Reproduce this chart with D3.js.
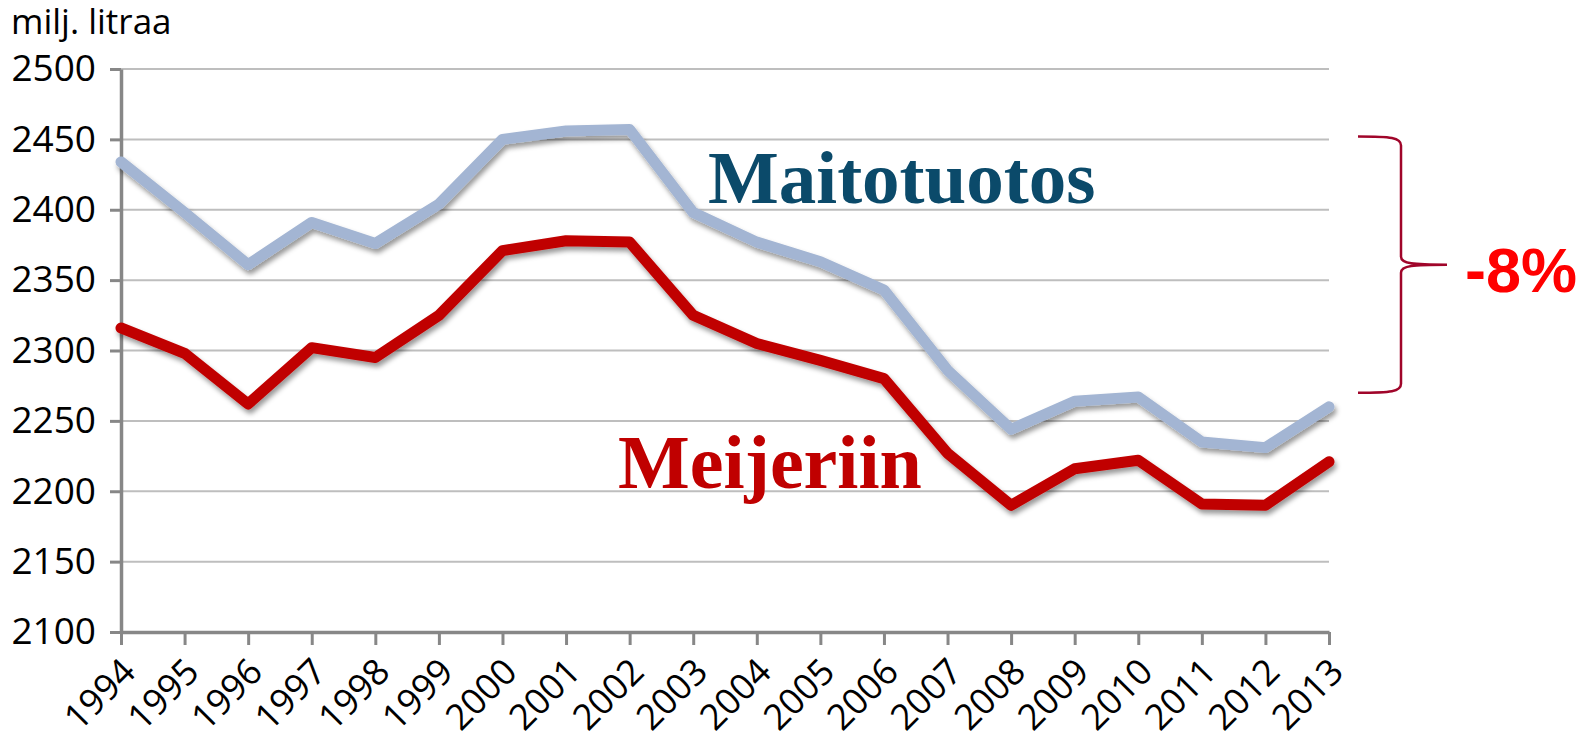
<!DOCTYPE html>
<html>
<head>
<meta charset="utf-8">
<script src="https://cdn.jsdelivr.net/npm/d3@7"></script>
<style>
  body { margin: 0; background: #fff; }
  svg { display: block; }
</style>
</head>
<body>
<div id="chart"></div>
<script>
// data
const years = [1994, 1995, 1996, 1997, 1998, 1999, 2000, 2001, 2002, 2003,
               2004, 2005, 2006, 2007, 2008, 2009, 2010, 2011, 2012, 2013]
const maitotuotos = [2434, 2398, 2361, 2391, 2376, 2404, 2450, 2456, 2457, 2398,
                     2377, 2363, 2343, 2286, 2244, 2264, 2267, 2235, 2231, 2260]
const meijeriin = [2316, 2298, 2262, 2302, 2295, 2325, 2371, 2378, 2377, 2325,
                   2305, 2293, 2280, 2227, 2190, 2216, 2222, 2191, 2190, 2221]
const yTicks = [2100, 2150, 2200, 2250, 2300, 2350, 2400, 2450, 2500]
// brace spans from 2013 level up to the peak level
const braceRange = [2270, 2452]

const width = 1585,
    height = 737

let margin = {top: 69, right: 256, bottom: 105, left: 121}

let svg = d3.select('#chart')
    .append('svg')
    .attr('width', width)
    .attr('height', height)

let defs = svg.append('defs')
let shadow = defs.append('filter')
    .attr('id', 'shadow')
    .attr('x', '-10%').attr('y', '-10%')
    .attr('width', '120%').attr('height', '130%')
shadow.append('feDropShadow')
    .attr('dx', 2)
    .attr('dy', 4)
    .attr('stdDeviation', 2.5)
    .attr('flood-color', '#000')
    .attr('flood-opacity', 0.4)

let x = d3.scalePoint()
    .domain(years)
    .range([margin.left, width - margin.right])

let y = d3.scaleLinear()
    .domain([2100, 2500])
    .range([height - margin.bottom, margin.top])

// gridlines
svg.append('g')
    .selectAll('line')
    .data(yTicks.filter(d => d > 2100))
    .join('line')
    .attr('x1', margin.left)
    .attr('x2', width - margin.right)
    .attr('y1', d => y(d))
    .attr('y2', d => y(d))
    .attr('stroke', '#bebebe')
    .attr('stroke-width', 2)

// y axis
let yAxis = svg.append('g')
    .attr('transform', `translate(${margin.left},0)`)
    .call(d3.axisLeft(y).tickValues(yTicks).tickFormat(d3.format('d'))
        .tickSize(11).tickPadding(14).tickSizeOuter(0))
yAxis.select('.domain').attr('stroke', '#878787').attr('stroke-width', 3.5)
yAxis.selectAll('.tick line').attr('stroke', '#878787').attr('stroke-width', 3)
yAxis.selectAll('.tick text')
    .attr('fill', '#000')
    .style('font-family', '"Open Sans", sans-serif')
    .style('font-size', '37px')

// x axis
let xAxis = svg.append('g')
    .attr('transform', `translate(0,${y(2100)})`)
    .call(d3.axisBottom(x).tickSize(13).tickSizeOuter(0).tickFormat(d3.format('d')))
xAxis.select('.domain').attr('stroke', '#878787').attr('stroke-width', 3.5)
xAxis.selectAll('.tick line').attr('stroke', '#878787').attr('stroke-width', 3)
xAxis.selectAll('.tick text')
    .attr('fill', '#000')
    .attr('text-anchor', 'end')
    .attr('y', 0)
    .attr('dy', 0)
    .attr('transform', 'translate(16,42) rotate(-45)')
    .style('font-family', '"Open Sans", sans-serif')
    .style('font-size', '36px')

// lines
let line = d3.line()
    .x((d, i) => x(years[i]))
    .y(d => y(d))

svg.append('path')
    .datum(maitotuotos)
    .attr('d', line)
    .attr('fill', 'none')
    .attr('stroke', '#a3b5d3')
    .attr('stroke-width', 11)
    .attr('stroke-linejoin', 'round')
    .attr('stroke-linecap', 'round')
    .attr('filter', 'url(#shadow)')

svg.append('path')
    .datum(meijeriin)
    .attr('d', line)
    .attr('fill', 'none')
    .attr('stroke', '#c00000')
    .attr('stroke-width', 11)
    .attr('stroke-linejoin', 'round')
    .attr('stroke-linecap', 'round')
    .attr('filter', 'url(#shadow)')

// unit label
svg.append('text')
    .attr('x', 11)
    .attr('y', 34)
    .text('milj. litraa')
    .style('font-family', '"Open Sans", sans-serif')
    .style('font-size', '35px')

// series labels
svg.append('text')
    .attr('x', 708)
    .attr('y', 203)
    .text('Maitotuotos')
    .attr('fill', '#0b4a6a')
    .style('font-family', '"Liberation Serif", serif')
    .style('font-weight', 'bold')
    .style('font-size', '75px')

svg.append('text')
    .attr('x', 618)
    .attr('y', 488)
    .text('Meijeriin')
    .attr('fill', '#c00000')
    .style('font-family', '"Liberation Serif", serif')
    .style('font-weight', 'bold')
    .style('font-size', '76px')

// brace
let bTop = y(braceRange[1]),
    bBot = y(braceRange[0]),
    bMid = (bTop + bBot) / 2,
    bx0 = 1358,
    bx1 = 1401,
    bx2 = 1447

let bracePath = d3.path()
bracePath.moveTo(bx0, bTop)
bracePath.bezierCurveTo(bx1 - 10, bTop, bx1, bTop + 1, bx1, bTop + 9)
bracePath.lineTo(bx1, bMid - 8)
bracePath.bezierCurveTo(bx1, bMid - 1, bx1 + 12, bMid, bx2, bMid)
bracePath.bezierCurveTo(bx1 + 12, bMid, bx1, bMid + 1, bx1, bMid + 8)
bracePath.lineTo(bx1, bBot - 9)
bracePath.bezierCurveTo(bx1, bBot - 1, bx1 - 10, bBot, bx0, bBot)

svg.append('path')
    .attr('d', bracePath.toString())
    .attr('fill', 'none')
    .attr('stroke', '#a0052a')
    .attr('stroke-width', 2.5)

svg.append('text')
    .attr('x', 1465)
    .attr('y', 292)
    .text('-8%')
    .attr('fill', '#ff0000')
    .style('font-family', '"Liberation Sans", sans-serif')
    .style('font-weight', 'bold')
    .style('font-size', '63px')
</script>
</body>
</html>
